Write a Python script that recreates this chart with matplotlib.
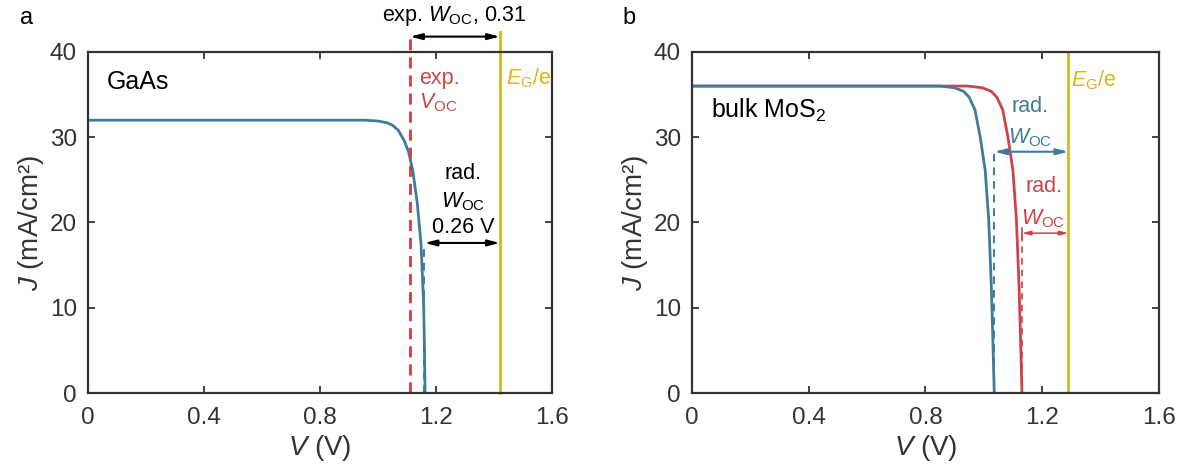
import matplotlib.pyplot as plt

plt.rcParams['font.family'] = ['Liberation Sans', 'DejaVu Sans']
plt.rcParams['mathtext.fontset'] = 'custom'
plt.rcParams['mathtext.rm'] = 'Liberation Sans'
plt.rcParams['mathtext.it'] = 'Liberation Sans:italic'

# colours
blue = '#3f7b9b'
red = '#cc4449'
red_dash = '#d93a40'
yellow = '#ddb322'
dark = '#333333'

# GaAs, radiative limit J-V curve
gaas_v = [0, 0.95, 1.00, 1.03, 1.05, 1.07, 1.09, 1.105, 1.12, 1.135, 1.148, 1.157, 1.160, 1.162]
gaas_j = [32, 32, 31.9, 31.7, 31.4, 30.8, 29.6, 28.3, 26.0, 22.3, 17.5, 10.5, 5.0, 0]
gaas_eg = 1.42
gaas_voc_exp = 1.11
gaas_voc_rad = 1.16

# bulk MoS2, two radiative curves
mos2_v1 = [0, 0.85, 0.90, 0.93, 0.95, 0.97, 0.988, 1.005, 1.017, 1.026, 1.031, 1.036]
mos2_j1 = [36, 36, 35.8, 35.4, 34.7, 33.2, 30.0, 26.1, 20.3, 12.5, 6.5, 0]
mos2_v2 = [0, 0.945, 0.995, 1.025, 1.045, 1.065, 1.083, 1.100, 1.112, 1.121, 1.126, 1.131]
mos2_j2 = [36, 36, 35.8, 35.4, 34.7, 33.2, 30.0, 26.1, 20.3, 12.5, 6.5, 0]
mos2_eg = 1.29

xticks = [0, 0.4, 0.8, 1.2, 1.6]
xticklabels = ['0', '0.4', '0.8', '1.2', '1.6']
yticks = [0, 10, 20, 30, 40]

W = r'$\mathit{W}_{\mathrm{OC}}$'
fs = 15.5

fig = plt.figure(figsize=(11.82, 4.75), dpi=100)
ax1 = fig.add_axes([0.0745, 0.1726, 0.3926, 0.718])
ax2 = fig.add_axes([0.5854, 0.1726, 0.395, 0.718])

for ax in (ax1, ax2):
    ax.set_xlim(0, 1.6)
    ax.set_ylim(0, 40)
    ax.set_xticks(xticks)
    ax.set_xticklabels(xticklabels)
    ax.set_yticks(yticks)
    ax.tick_params(direction='in', top=True, right=True, length=5, width=1.3,
                   labelsize=17.5, colors=dark)
    ax.tick_params(axis='x', pad=10)
    ax.tick_params(axis='y', pad=8)
    for s in ax.spines.values():
        s.set_linewidth(1.6)
        s.set_color(dark)
    ax.set_xlabel(r'$\mathit{V}$ (V)', fontsize=20, color=dark, labelpad=3)
    ax.set_ylabel(r'$\mathit{J}$ (mA/cm²)', fontsize=20, color=dark, labelpad=3)

# ---- panel a
ax1.plot(gaas_v, gaas_j, color=blue, lw=2)
ax1.plot([gaas_voc_exp, gaas_voc_exp], [0, 42.3], color=red_dash, lw=2,
         dashes=(4, 2.5), clip_on=False)
ax1.plot([gaas_eg, gaas_eg], [0, 42.3], color=yellow, lw=2, clip_on=False)
ax1.plot([gaas_voc_rad, gaas_voc_rad], [0, 17.6], color=blue, lw=1.4, dashes=(4, 3))
ax1.annotate('', xy=(gaas_voc_exp, 41.8), xytext=(gaas_eg, 41.8),
             arrowprops=dict(arrowstyle='<|-|>,head_length=0.7,head_width=0.18',
                             color='black', lw=1.5, shrinkA=0, shrinkB=0),
             annotation_clip=False)
ax1.annotate('', xy=(gaas_voc_rad, 17.6), xytext=(gaas_eg, 17.6),
             arrowprops=dict(arrowstyle='<|-|>,head_length=0.7,head_width=0.18',
                             color='black', lw=1.5, shrinkA=0, shrinkB=0))
ax1.text(1.262, 44.2, 'exp. ' + W + ', 0.31', ha='center', va='center',
         fontsize=fs, clip_on=False)
ax1.text(1.142, 36.9, 'exp.', color=red, fontsize=fs, ha='left', va='center')
ax1.text(1.142, 34.0, r'$\mathit{V}_{\mathrm{OC}}$', color=red, fontsize=fs,
         ha='left', va='center')
ax1.text(1.442, 36.9, r'$\mathit{E}_{\mathrm{G}}$/e', color=yellow, fontsize=fs,
         ha='left', va='center')
ax1.text(1.293, 25.8, 'rad.', fontsize=fs, ha='center', va='center')
ax1.text(1.293, 22.4, W, fontsize=fs, ha='center', va='center')
ax1.text(1.293, 19.4, '0.26 V', fontsize=fs, ha='center', va='center')
ax1.text(0.066, 36.5, 'GaAs', fontsize=18, ha='left', va='center')

# ---- panel b
ax2.plot(mos2_v2, mos2_j2, color=red, lw=2)
ax2.plot(mos2_v1, mos2_j1, color=blue, lw=2)
ax2.axvline(mos2_eg, color=yellow, lw=2)
ax2.plot([mos2_v1[-1], mos2_v1[-1]], [0, 28.4], color=blue, lw=1.4, dashes=(4, 3))
ax2.plot([mos2_v2[-1], mos2_v2[-1]], [0, 18.9], color=red, lw=1.2, dashes=(4, 3))
ax2.plot([mos2_v2[-1], mos2_v2[-1]], [18.2, 19.3], color=red, lw=1.2)
ax2.annotate('', xy=(mos2_v1[-1], 28.3), xytext=(mos2_eg, 28.3),
             arrowprops=dict(arrowstyle='<|-|>,head_length=0.7,head_width=0.18',
                             color=blue, lw=1.5, shrinkA=0, shrinkB=0))
ax2.annotate('', xy=(mos2_v2[-1], 18.75), xytext=(mos2_eg, 18.75),
             arrowprops=dict(arrowstyle='<|-|>,head_length=0.5,head_width=0.13',
                             color=red, lw=1.1, shrinkA=0, shrinkB=0))
ax2.text(1.16, 33.6, 'rad.', color=blue, fontsize=fs, ha='center', va='center')
ax2.text(1.16, 29.9, W, color=blue, fontsize=fs, ha='center', va='center')
ax2.text(1.205, 24.2, 'rad.', color=red, fontsize=fs, ha='center', va='center')
ax2.text(1.205, 20.4, W, color=red, fontsize=fs, ha='center', va='center')
ax2.text(1.30, 36.7, r'$\mathit{E}_{\mathrm{G}}$/e', color=yellow, fontsize=fs,
         ha='left', va='center')
ax2.text(0.066, 33.2, r'bulk MoS$_2$', fontsize=18, ha='left', va='center')

fig.text(0.017, 0.962, 'a', fontsize=17, ha='left', va='center')
fig.text(0.527, 0.962, 'b', fontsize=17, ha='left', va='center')

fig.savefig('out.png', dpi=100)
